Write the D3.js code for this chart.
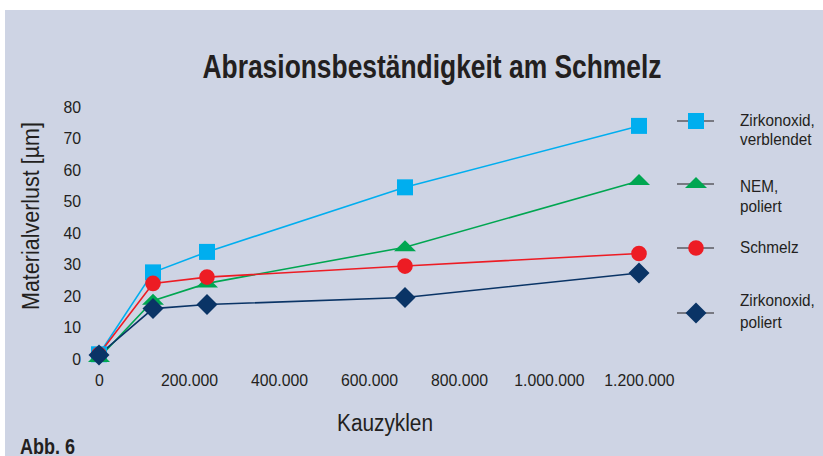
<!doctype html>
<html>
<head>
<meta charset="utf-8">
<style>
  body { margin: 0; background: #fff; }
  svg text { font-family: "Liberation Sans", Arial, sans-serif; fill: #231f20; }
</style>
</head>
<body>
<svg id="chart" width="823" height="456"></svg>
<script src="https://cdn.jsdelivr.net/npm/d3@7/dist/d3.min.js"></script>
<script>
// Kauzyklen (x) und Materialverlust in µm (y)
const cycles = [0, 120000, 240000, 680000, 1200000];
const zirkonVerblendet = [1.5, 27.5, 34, 54.5, 74];
const nemPoliert = [0.3, 18.5, 24, 35.5, 56.5];
const schmelz = [1.5, 24, 26, 29.5, 33.5];
const zirkonPoliert = [1.3, 16, 17.3, 19.5, 27.3];
const xTicks = [0, 200000, 400000, 600000, 800000, 1000000, 1200000];
const yTicks = [0, 10, 20, 30, 40, 50, 60, 70, 80];

const series = [
  { name: ["Zirkonoxid,", "verblendet"], values: zirkonVerblendet, color: "#00aeef", shape: "square" },
  { name: ["NEM,", "poliert"], values: nemPoliert, color: "#00a651", shape: "triangle" },
  { name: ["Schmelz"], values: schmelz, color: "#ed1c24", shape: "circle" },
  { name: ["Zirkonoxid,", "poliert"], values: zirkonPoliert, color: "#0a3466", shape: "diamond" }
];

const svg = d3.select("#chart");

// Hintergrund
svg.append("rect").attr("x", 5).attr("y", 10).attr("width", 818).attr("height", 446).attr("fill", "#ced4e4");

let x = d3.scaleLinear().domain([0, 1200000]).range([99, 639]);
let y = d3.scaleLinear().domain([0, 80]).range([359, 107]);

// schmale Schrift nachbilden (Helvetica Condensed gibt es nicht)
function squeeze(sel, ratio) {
  sel.each(function () {
    let w = this.getComputedTextLength();
    d3.select(this).attr("textLength", w * ratio).attr("lengthAdjust", "spacingAndGlyphs");
  });
}

// Markerformen
function markerPath(shape) {
  if (shape === "square") return "M-8,-8H8V8H-8Z";
  if (shape === "triangle") return "M0,-7L11,4H-11Z";
  if (shape === "diamond") return "M0,-10.5L10.5,0L0,10.5L-10.5,0Z";
  return d3.symbol(d3.symbolCircle, Math.PI * 7.8 * 7.8)();
}

const fmt = d => d3.format(",")(d).replace(/,/g, ".");

// Achsen (ohne Linien)
let xAxis = svg.append("g")
  .attr("transform", "translate(0,371)")
  .call(d3.axisBottom(x).tickValues(xTicks).tickFormat(fmt).tickSize(0));
xAxis.select(".domain").remove();
xAxis.selectAll("text").attr("font-size", "17px").attr("dy", "0.71em").attr("font-family", null);

let yAxis = svg.append("g")
  .attr("transform", "translate(84,0)")
  .call(d3.axisLeft(y).tickValues(yTicks).tickSize(0));
yAxis.select(".domain").remove();
yAxis.selectAll("text").attr("font-size", "17px").attr("font-family", null);
svg.selectAll(".tick text").attr("fill", "#231f20");
squeeze(svg.selectAll(".tick text"), 0.93);

// Linien und Punkte
let line = d3.line().x((d, i) => x(cycles[i])).y(d => y(d));
series.forEach(s => {
  svg.append("path")
    .attr("d", line(s.values))
    .attr("fill", "none")
    .attr("stroke", s.color)
    .attr("stroke-width", 1.6);
});
series.forEach(s => {
  svg.append("g")
    .selectAll("path")
    .data(s.values)
    .join("path")
    .attr("d", markerPath(s.shape))
    .attr("transform", (d, i) => "translate(" + x(cycles[i]) + "," + y(d) + ")")
    .attr("fill", s.color);
});

// Titel
svg.append("text")
  .attr("x", 432).attr("y", 78)
  .attr("text-anchor", "middle")
  .attr("font-size", "33px")
  .attr("font-weight", "bold")
  .attr("textLength", 459)
  .attr("lengthAdjust", "spacingAndGlyphs")
  .text("Abrasionsbeständigkeit am Schmelz");

// Achsentitel
svg.append("text")
  .attr("transform", "translate(39,216) rotate(-90)")
  .attr("text-anchor", "middle")
  .attr("font-size", "23px")
  .attr("textLength", 188)
  .attr("lengthAdjust", "spacingAndGlyphs")
  .text("Materialverlust [µm]");

svg.append("text")
  .attr("x", 385).attr("y", 431)
  .attr("text-anchor", "middle")
  .attr("font-size", "23px")
  .attr("textLength", 96)
  .attr("lengthAdjust", "spacingAndGlyphs")
  .text("Kauzyklen");

svg.append("text")
  .attr("x", 20).attr("y", 454)
  .attr("font-size", "22px")
  .attr("font-weight", "bold")
  .attr("textLength", 55)
  .attr("lengthAdjust", "spacingAndGlyphs")
  .text("Abb. 6");

// Legende
const legendY = [121, 184, 248, 313];
const legendTextY = [[126, 145], [192, 212], [253], [306, 328]];
series.forEach((s, k) => {
  let g = svg.append("g");
  g.append("line")
    .attr("x1", 677).attr("x2", 714)
    .attr("y1", legendY[k]).attr("y2", legendY[k])
    .attr("stroke", "#231f20").attr("stroke-width", 1);
  g.append("path")
    .attr("d", markerPath(s.shape))
    .attr("transform", "translate(696," + legendY[k] + ")")
    .attr("fill", s.color);
  s.name.forEach((t, j) => {
    let txt = g.append("text")
      .attr("x", 740).attr("y", legendTextY[k][j])
      .attr("font-size", "17px")
      .text(t);
    squeeze(txt, 0.9);
  });
});
</script>
</body>
</html>
